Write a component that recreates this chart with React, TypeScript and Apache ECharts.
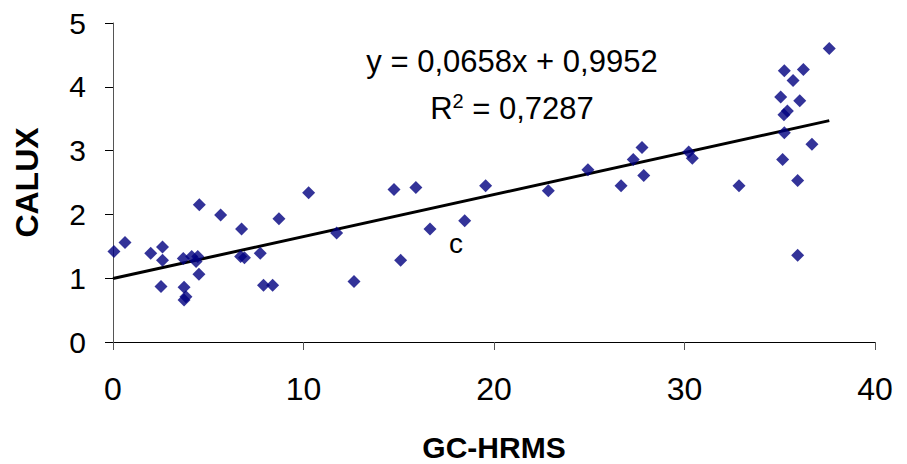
import React, { useEffect, useRef } from "react";
import * as echarts from "echarts";

// GC-HRMS (x) versus CALUX (y) measurements
const gcHrms = [
  0.05, 0.63, 1.98, 2.6, 2.6, 2.52, 3.69, 3.73, 3.83, 3.73, 4.13, 4.45, 4.36, 4.51,
  4.53, 5.65, 6.75, 6.7, 6.9, 7.73, 7.9, 8.38, 8.71, 10.27, 11.74, 12.65, 14.75, 15.1,
  15.9, 16.64, 18.46, 19.56, 22.85, 24.93, 26.67, 27.31, 27.77, 27.86, 30.22, 30.41,
  32.86, 35.05, 35.15, 35.22, 35.24, 35.24, 35.4, 35.7, 35.94, 35.94, 36.05, 36.24,
  36.69, 37.6,
];
const calux = [
  1.42, 1.56, 1.39, 1.49, 1.28, 0.87, 1.31, 0.86, 0.71, 0.66, 1.34, 1.34, 1.26, 1.06,
  2.15, 1.99, 1.77, 1.34, 1.32, 1.39, 0.89, 0.89, 1.93, 2.34, 1.71, 0.95, 2.39, 1.28,
  2.42, 1.77, 1.9, 2.45, 2.37, 2.7, 2.45, 2.86, 3.05, 2.61, 2.98, 2.88, 2.45, 3.84,
  2.86, 3.56, 3.28, 4.25, 3.62, 4.1, 2.53, 1.36, 3.78, 4.27, 3.1, 4.6,
];

// Linear fit reported on the chart
const slope = 0.0658;
const intercept = 0.9952;
const rSquared = 0.7287;

const xTicks = [0, 10, 20, 30, 40];
const yTicks = [0, 1, 2, 3, 4, 5];

const fmt = (v: number) => v.toFixed(4).replace(".", ",");

export default function App() {
  const ref = useRef<HTMLDivElement>(null);

  useEffect(() => {
    if (!ref.current) return;
    const chart = echarts.init(ref.current, null, { renderer: "svg" });
    const font = "'Liberation Sans', Arial, sans-serif";
    const points = gcHrms.map((x, i) => [x, calux[i]]);
    const xMax = Math.max(...gcHrms);
    const fitLine = [0, xMax].map((x) => [x, slope * x + intercept]);

    chart.setOption({
      animation: false,
      backgroundColor: "#ffffff",
      grid: {
        left: 113,
        top: 23,
        width: 762,
        height: 319,
        containLabel: false,
        outerBoundsMode: "none",
      },
      xAxis: {
        type: "value",
        min: xTicks[0],
        max: xTicks[xTicks.length - 1],
        interval: 10,
        splitLine: { show: false },
        axisLine: { show: true, lineStyle: { color: "#000", width: 1 } },
        axisTick: { show: true, inside: false, length: 8, lineStyle: { color: "#555" } },
        axisLabel: { color: "#000", fontSize: 32, fontFamily: font, margin: 31 },
        name: "GC-HRMS",
        nameLocation: "middle",
        nameGap: 90,
        nameTextStyle: { color: "#000", fontSize: 30, fontWeight: "bold", fontFamily: font },
      },
      yAxis: {
        type: "value",
        min: yTicks[0],
        max: yTicks[yTicks.length - 1],
        interval: 1,
        splitLine: { show: false },
        axisLine: { show: true, lineStyle: { color: "#555", width: 1 } },
        axisTick: { show: true, inside: false, length: 8, lineStyle: { color: "#000" } },
        axisLabel: { color: "#000", fontSize: 30, fontFamily: font, margin: 27 },
        name: "CALUX",
        nameLocation: "middle",
        nameGap: 70,
        nameRotate: 90,
        nameTextStyle: { color: "#000", fontSize: 32, fontWeight: "bold", fontFamily: font },
      },
      series: [
        {
          type: "line",
          data: fitLine,
          symbol: "none",
          lineStyle: { color: "#000", width: 3 },
          z: 3,
        },
        {
          type: "scatter",
          data: points,
          symbol: "diamond",
          symbolSize: 13,
          itemStyle: { color: "#000080" },
          z: 4,
        },
      ],
      graphic: [
        {
          type: "text",
          x: 512,
          y: 61,
          style: {
            text: `y = ${fmt(slope)}x + ${fmt(intercept)}`,
            fill: "#000",
            font: `31px ${font}`,
            align: "center",
            verticalAlign: "middle",
          },
        },
        {
          type: "text",
          x: 512,
          y: 108,
          style: {
            text: `R{sup|2} = ${fmt(rSquared)}`,
            fill: "#000",
            font: `31px ${font}`,
            align: "center",
            verticalAlign: "middle",
            rich: {
              sup: { fontSize: 20, fontFamily: font, verticalAlign: "top", padding: [0, 0, 14, 0] },
            },
          },
        },
        {
          type: "text",
          x: 456,
          y: 243,
          style: {
            text: "c",
            fill: "#000",
            font: `28px ${font}`,
            align: "center",
            verticalAlign: "middle",
          },
        },
      ],
    });
    return () => chart.dispose();
  }, []);

  return <div ref={ref} style={{ width: 907, height: 464, marginLeft: -8, marginTop: -8 }} />;
}
